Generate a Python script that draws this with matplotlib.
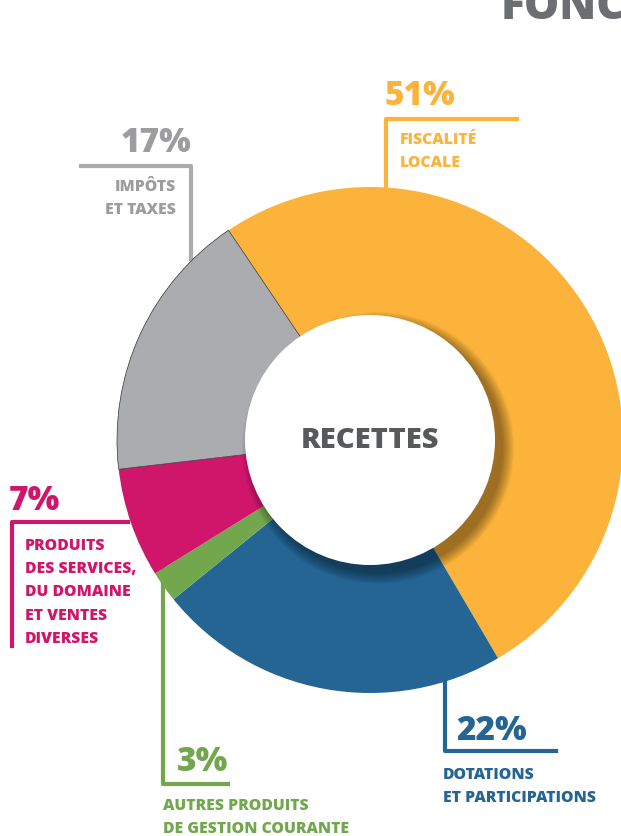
import numpy as np
import matplotlib.pyplot as plt
from matplotlib.patches import Circle

plt.rcParams['font.family'] = ['Open Sans', 'DejaVu Sans']

# data, clockwise from the top-left
shares = [51, 22.6, 2, 7, 17.4]
pct_labels = ['51%', '22%', '3%', '7%', '17%']
names = ['FISCALITÉ\nLOCALE', 'DOTATIONS\nET PARTICIPATIONS',
         'AUTRES PRODUITS\nDE GESTION COURANTE',
         'PRODUITS\nDES SERVICES,\nDU DOMAINE\nET VENTES\nDIVERSES',
         'IMPÔTS\nET TAXES']
colors = ['#FBB33B', '#246594', '#72A74E', '#D0166B', '#ABACAF']
text_colors = ['#FBB33B', '#246594', '#72A74E', '#D0166B', '#9D9D9F']

W, H = 621, 837
def Y(y):
    # picture rows -> axis units (y up)
    return H - y

fig = plt.figure(figsize=(W / 100, H / 100), dpi=100)
ax = fig.add_axes([0, 0, 1, 1])

cx, cy = 370, Y(441)
r_out, r_in = 253, 125

wedges, _ = ax.pie(shares, colors=colors, startangle=124, counterclock=False,
                   center=(cx, cy), radius=r_out,
                   wedgeprops=dict(linewidth=0, zorder=3))
wedges[4].set_edgecolor('#333333')
wedges[4].set_linewidth(0.5)

# soft shadow of the hole
clip = Circle((cx, cy), r_out, transform=ax.transData)
for k in range(12):
    sh = Circle((cx + 8, cy - 8), r_in + k, facecolor='black',
                edgecolor='none', alpha=0.035, zorder=4)
    ax.add_patch(sh)
    sh.set_clip_path(clip)
ax.add_patch(Circle((cx, cy), r_in, facecolor='white', edgecolor='none', zorder=5))

ax.text(cx, cy, 'RECETTES', ha='center', va='center', fontsize=21,
        fontweight='heavy', color='#58595B', zorder=6)

# connectors
lw = 3
ax.plot([517, 386, 386], [Y(120), Y(120), Y(200)], color=colors[0], lw=lw, zorder=2)
ax.plot([445, 445, 556], [Y(680), Y(752), Y(752)], color=colors[1], lw=lw, zorder=2)
ax.plot([163, 163, 228], [Y(570), Y(785), Y(785)], color=colors[2], lw=lw, zorder=2)
ax.plot([128, 12, 12], [Y(523), Y(523), Y(647)], color=colors[3], lw=lw, zorder=2)
ax.plot([81, 191, 191], [Y(167), Y(167), Y(260)], color=colors[4], lw=lw, zorder=2)

pct_kw = dict(fontsize=24, fontweight='heavy', va='center')
lab_kw = dict(fontsize=11.3, fontweight='heavy', va='top', linespacing=1.6)

ax.text(384, Y(96), pct_labels[0], color=text_colors[0], ha='left', **pct_kw)
ax.text(400, Y(132), names[0], color=text_colors[0], ha='left', **lab_kw)

ax.text(456, Y(731), pct_labels[1], color=text_colors[1], ha='left', **pct_kw)
ax.text(443, Y(767), names[1], color=text_colors[1], ha='left', **lab_kw)

ax.text(177, Y(762), pct_labels[2], color=text_colors[2], ha='left', **pct_kw)
ax.text(163, Y(798), names[2], color=text_colors[2], ha='left', **lab_kw)

ax.text(9, Y(501), pct_labels[3], color=text_colors[3], ha='left', **pct_kw)
ax.text(25, Y(538), names[3], color=text_colors[3], ha='left', **lab_kw)

ax.text(191, Y(143), pct_labels[4], color=text_colors[4], ha='right', **pct_kw)
ax.text(176, Y(179), names[4], color=text_colors[4], ha='right', multialignment='right', **lab_kw)

# cropped page title
ax.text(501, Y(19), 'FONCTIONNEMENT', fontsize=32, fontweight='heavy',
        color='#6D6E71', ha='left', va='baseline')

ax.set_xlim(0, W)
ax.set_ylim(0, H)
ax.set_aspect('auto')
ax.axis('off')

fig.savefig('out.png', dpi=100)
